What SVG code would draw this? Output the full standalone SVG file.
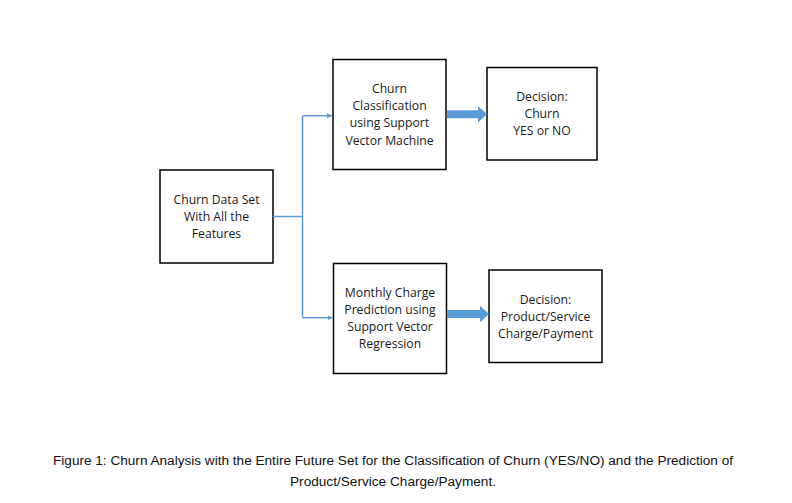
<svg xmlns="http://www.w3.org/2000/svg" width="792" height="503" viewBox="0 0 792 503">
<defs>
<marker id="thin" markerWidth="6" markerHeight="6" refX="5" refY="3" orient="auto" markerUnits="userSpaceOnUse"><path d="M0,0.5 L5,3 L0,5.5 Z" fill="#5b9bd5"/></marker>
</defs>
<style>
.box{fill:#fff;stroke:#000;stroke-width:1.5}
.t{font-family:"Open Sans","Liberation Sans",sans-serif;font-size:12.2px;fill:#1a1a1a;text-anchor:middle}
.cap{font-family:"Liberation Sans",Arial,sans-serif;font-size:12.5px;fill:#111;text-anchor:middle}
.ln{fill:none;stroke:#5b9bd5;stroke-width:1.5}
.big{fill:#5b9bd5}
</style>
<rect width="792" height="503" fill="#fff"/>
<g id="data">
<rect class="box" x="160" y="170" width="113" height="93"/>
<text class="t" x="216.5" y="203.5">Churn Data Set</text>
<text class="t" x="216.5" y="221">With All the</text>
<text class="t" x="216.5" y="238">Features</text>
</g>
<g id="svm">
<rect class="box" x="333" y="59.5" width="113" height="110"/>
<text class="t" x="389.5" y="92.5">Churn</text>
<text class="t" x="389.5" y="109.5">Classification</text>
<text class="t" x="389.5" y="127">using Support</text>
<text class="t" x="389.5" y="144.5">Vector Machine</text>
</g>
<g id="dec1">
<rect class="box" x="487" y="67.5" width="110" height="92.5"/>
<text class="t" x="542" y="101">Decision:</text>
<text class="t" x="542" y="117.5">Churn</text>
<text class="t" x="542" y="134.5">YES or NO</text>
</g>
<g id="svr">
<rect class="box" x="333.5" y="263.5" width="113" height="110"/>
<text class="t" x="390" y="296.5">Monthly Charge</text>
<text class="t" x="390" y="314">Prediction using</text>
<text class="t" x="390" y="331">Support Vector</text>
<text class="t" x="390" y="347.5">Regression</text>
</g>
<g id="dec2">
<rect class="box" x="489" y="270" width="113" height="92.5"/>
<text class="t" x="545.5" y="303.5">Decision:</text>
<text class="t" x="545.5" y="321">Product/Service</text>
<text class="t" x="545.5" y="337.5">Charge/Payment</text>
</g>
<g id="connectors">
<path class="ln" d="M273,216.5 H302.5"/>
<path class="ln" d="M302.5,115.7 V317.7"/>
<path class="ln" d="M302.5,115.7 H332" marker-end="url(#thin)"/>
<path class="ln" d="M302.5,317.7 H332.5" marker-end="url(#thin)"/>
<path class="big" d="M446.8,110.3 H478 V106 L487,114.3 L478,122.6 V118.3 H446.8 Z"/>
<path class="big" d="M446.8,310 H480 V305.8 L489,314 L480,322.2 V318 H446.8 Z"/>
</g>
<g id="caption">
<text class="cap" x="393" y="464.5" textLength="680" lengthAdjust="spacingAndGlyphs">Figure 1: Churn Analysis with the Entire Future Set for the Classification of Churn (YES/NO) and the Prediction of</text>
<text class="cap" x="393" y="486" textLength="206" lengthAdjust="spacingAndGlyphs">Product/Service Charge/Payment.</text>
</g>
</svg>
